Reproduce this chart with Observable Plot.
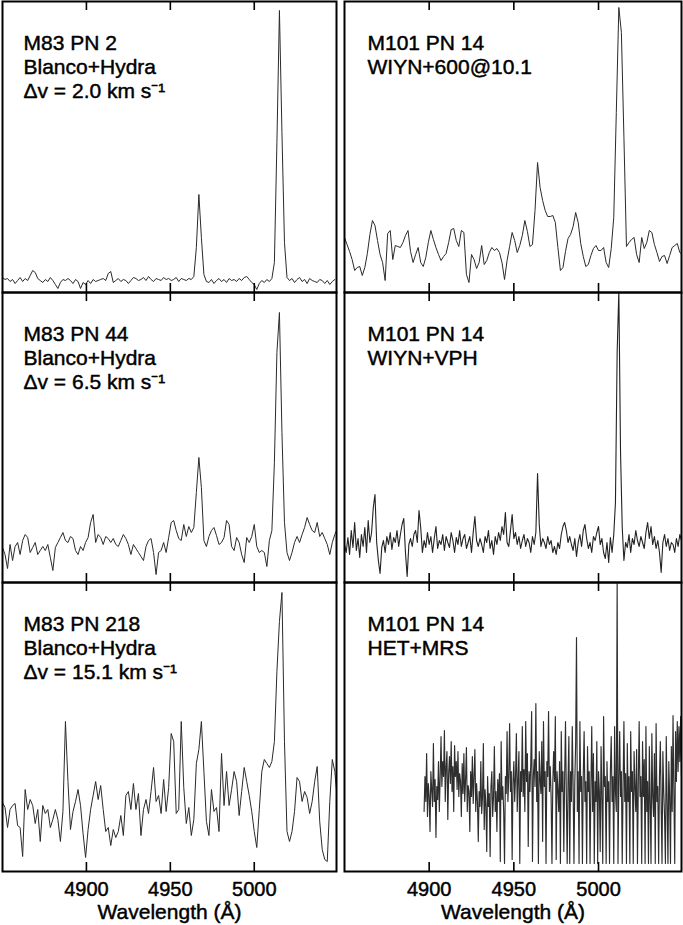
<!DOCTYPE html>
<html><head><meta charset="utf-8">
<script src="https://cdn.jsdelivr.net/npm/d3@7"></script>
<script src="https://cdn.jsdelivr.net/npm/@observablehq/plot@0.6"></script>
<style>
body{margin:0;background:#fff;}
#chart{position:relative;width:683px;height:925px;overflow:hidden;font-family:"Liberation Sans",Arial,sans-serif;}
#chart svg{position:absolute;}
</style></head><body><div id="chart"></div>
<script>
// ---------- text ----------
const panelLabels = [
  "M83 PN 2\nBlanco+Hydra\nΔv = 2.0 km s⁻¹",
  "M101 PN 14\nWIYN+600@10.1",
  "M83 PN 44\nBlanco+Hydra\nΔv = 6.5 km s⁻¹",
  "M101 PN 14\nWIYN+VPH",
  "M83 PN 218\nBlanco+Hydra\nΔv = 15.1 km s⁻¹",
  "M101 PN 14\nHET+MRS"
];
const tickValues = [4900, 4950, 5000];
const xLabel = "Wavelength (Å)";
const xDomain = [4850, 5049];

// ---------- wavelength grids (start Å, step Å) ----------
const gridStart = [4850, 4850, 4850, 4850, 4850, 4897];
const gridStep  = [1.5, 1.5, 1.5, 1, 1.5, 0.5];

// ---------- fluxes (relative units) ----------
const fluxM83PN2 = [
  15,13,14,11,13,9,12,15,11,14,12,17,22,
  20,14,12,10,13,11,15,12,8,4,10,13,12,
  14,12,9,13,11,4,10,8,12,9,13,11,12,
  13,14,12,19,21,10,12,14,11,13,12,9,12,
  15,14,12,13,15,12,16,13,11,14,13,12,15,
  13,14,12,13,15,11,14,13,12,14,13,16,
  45,98,55,18,
  11,10,13,9,12,14,11,13,10,14,12,13,11,
  14,12,15,16,13,10,8,3,9,12,10,13,11,
  14,30,150,282,160,50,
  15,12,14,10,13,15,11,13,9,14,12,11,10,13,12,9,12,8,11,13
];
const fluxM101WIYN600 = [
  55,48,41,33,22,25,26,17,25,39,58,72,67,52,38,30,12,59,62,33,
  47,46,45,50,57,62,41,30,38,45,30,26,35,50,62,53,45,38,32,36,
  39,50,63,64,52,46,62,60,18,10,38,33,24,30,47,28,32,40,45,42,
  44,40,30,13,32,46,60,52,40,47,57,72,61,46,48,82,130,105,92,82,
  76,76,77,70,45,22,25,41,54,58,66,80,70,49,36,26,28,37,44,47,
  42,42,45,30,25,44,75,180,285,260,155,46,50,53,55,38,30,55,44,50,
  62,60,48,40,31,36,37,29,37,45,47,49,40,38
];
const fluxM83PN44 = [
  35,28,14,38,22,36,40,28,42,48,45,30,35,40,28,32,36,32,38,25,
  12,35,40,45,50,42,40,46,44,32,28,36,32,40,45,60,68,40,48,45,
  38,46,44,40,44,38,36,42,48,44,38,28,38,34,30,26,22,36,42,44,
  30,8,30,32,40,30,45,60,62,52,44,42,58,46,56,50,55,90,125,95,
  42,36,46,52,55,47,38,40,45,62,58,36,32,45,40,28,20,45,40,46,
  58,36,30,32,30,16,42,52,120,230,270,150,60,30,22,30,40,46,40,48,
  55,65,58,52,50,60,46,50,44,38,28,40,48,54
];
const fluxM101VPH = [
  38,30,45,28,52,35,60,32,44,25,48,36,55,30,62,40,50,75,88,40,
  22,9,35,42,30,46,38,50,33,45,40,52,36,48,58,64,30,6,38,44,
  36,48,52,40,72,55,30,42,35,50,38,46,30,44,56,34,42,38,48,32,
  46,40,35,50,42,30,45,38,52,36,44,48,34,40,46,30,50,66,42,36,
  44,38,30,46,40,52,34,42,28,46,38,50,42,56,48,70,40,36,52,68,
  44,50,38,46,34,42,48,36,44,40,30,46,38,50,109,58,36,44,40,34,
  46,38,42,30,36,28,40,34,48,56,60,52,40,46,38,32,44,26,40,48,
  36,52,58,44,34,40,30,46,42,50,56,38,44,30,24,40,20,45,30,48,
  80,230,292,130,55,22,40,35,48,30,44,38,52,42,36,46,40,34,50,60,
  44,56,38,46,34,42,30,10,40,48,36,44,32,40,38,30,44,36,48,42,
  40
];
const fluxM83PN218 = [
  69,64,44,62,66,68,46,44,15,82,62,72,66,48,62,30,66,58,62,44,
  52,62,52,30,60,150,90,42,60,70,82,66,38,14,42,62,76,90,72,86,
  62,40,44,26,42,34,40,56,36,76,80,62,88,62,78,36,62,72,58,80,
  104,70,76,58,92,60,84,138,130,58,62,150,84,48,64,36,52,108,122,150,
  100,50,36,82,60,64,40,118,66,100,66,82,100,90,56,80,104,90,76,60,
  40,24,62,100,112,108,104,110,130,200,250,279,130,40,30,40,60,94,90,70,
  80,74,58,70,90,105,50,22,12,10,70,112,100,72
];
const fluxM101HET = [
  60,95,70,118,55,88,75,40,100,82,65,128,70,92,34,85,72,110,60,95,
  135,85,110,95,141,70,105,120,52,98,115,88,130,80,105,60,126,95,110,82,
  120,75,98,90,55,108,78,118,70,92,124,60,86,80,40,100,75,115,68,95,
  122,60,88,70,30,80,65,110,58,75,128,42,82,66,20,95,65,78,15,85,
  100,55,75,125,60,80,40,92,70,98,10,130,72,85,60,8,95,78,140,70,
  95,148,80,100,12,90,110,70,95,138,60,92,120,8,100,80,145,75,102,60,
  150,90,118,25,100,80,108,160,10,95,112,85,168,70,100,8,120,92,78,130,
  30,150,85,100,8,110,95,160,80,105,75,8,88,120,90,155,12,100,82,60,
  110,8,140,80,100,20,95,150,75,8,90,135,8,100,70,145,85,8,90,128,
  234,60,100,8,150,80,95,8,98,140,70,90,8,125,80,100,8,85,145,60,
  118,8,90,70,130,8,100,80,20,125,75,8,155,85,95,8,110,70,90,8,
  100,135,70,95,8,145,80,60,290,8,90,140,75,100,8,85,150,70,98,8,
  128,70,95,8,140,80,100,8,120,85,60,122,8,90,150,75,95,8,130,75,
  112,8,145,60,90,8,125,70,8,138,75,55,118,8,148,70,85,8,95,130,
  65,8,120,80,55,8,135,70,8,110,75,8,125,60,156,80,8,140,90,150,
  100,145,110,155,95,150,120
];
const fluxes = [fluxM83PN2, fluxM101WIYN600, fluxM83PN44, fluxM101VPH, fluxM83PN218, fluxM101HET];

// ---------- layout ----------
const cols = [{x: 2, w: 334}, {x: 344, w: 337}];
const rows = [{y: 1, h: 291}, {y: 292, h: 290}, {y: 582, h: 289}];
const PAD = 3, BOTTOM = 56, TICK = 9;
const FONT = "'Liberation Sans', Arial, Helvetica, sans-serif";
const lineStyles = [
  {stroke: "#2a2a2a", strokeWidth: 1},
  {stroke: "#2a2a2a", strokeWidth: 1},
  {stroke: "#2a2a2a", strokeWidth: 1},
  {stroke: "#222", strokeWidth: 1.1},
  {stroke: "#2a2a2a", strokeWidth: 1},
  {stroke: "#2e2e2e", strokeWidth: 1.15}
];

const chart = document.getElementById("chart");

fluxes.forEach((flux, i) => {
  const col = cols[i % 2], row = rows[Math.floor(i / 2)];
  const isBottom = Math.floor(i / 2) === 2;
  const data = flux.map((v, k) => ({x: gridStart[i] + k * gridStep[i], y: v}));
  const mb = isBottom ? BOTTOM : PAD;
  const marks = [
    Plot.line(data, {x: "x", y: "y", ...lineStyles[i], clip: true}),
    Plot.ruleX(tickValues, {stroke: "#000", strokeWidth: 1.6, insetBottom: row.h - TICK}),
    Plot.ruleX(tickValues, {stroke: "#000", strokeWidth: 1.6, insetTop: row.h - TICK}),
    Plot.frame({stroke: "#000", strokeWidth: 2}),
    Plot.text([panelLabels[i]], {
      text: d => d, frameAnchor: "top-left", textAnchor: "start", lineAnchor: "top",
      dx: i % 2 ? 23 : 21, dy: 31, fontSize: 21, lineHeight: 24 / 21,
      fill: "#000", stroke: "#000", strokeWidth: 0.45
    })
  ];
  if (isBottom) {
    marks.push(Plot.text(tickValues, {x: d => d, text: d => String(d), frameAnchor: "bottom",
      lineAnchor: "top", dy: 10, fontSize: 20, fill: "#000", stroke: "#000", strokeWidth: 0.45}));
    marks.push(Plot.text([xLabel], {text: d => d, frameAnchor: "bottom", lineAnchor: "bottom",
      dy: 47, fontSize: 21, fill: "#000", stroke: "#000", strokeWidth: 0.45}));
  }
  const svg = Plot.plot({
    width: col.w + 2 * PAD,
    height: row.h + PAD + mb,
    marginLeft: PAD, marginRight: PAD, marginTop: PAD, marginBottom: mb,
    x: {domain: xDomain, axis: null},
    y: {domain: [0, row.h], axis: null},
    style: {background: "transparent", overflow: "visible", fontFamily: FONT, color: "#000"},
    marks
  });
  svg.style.left = (col.x - PAD) + "px";
  svg.style.top = (row.y - PAD) + "px";
  chart.appendChild(svg);
});
</script></body></html>
